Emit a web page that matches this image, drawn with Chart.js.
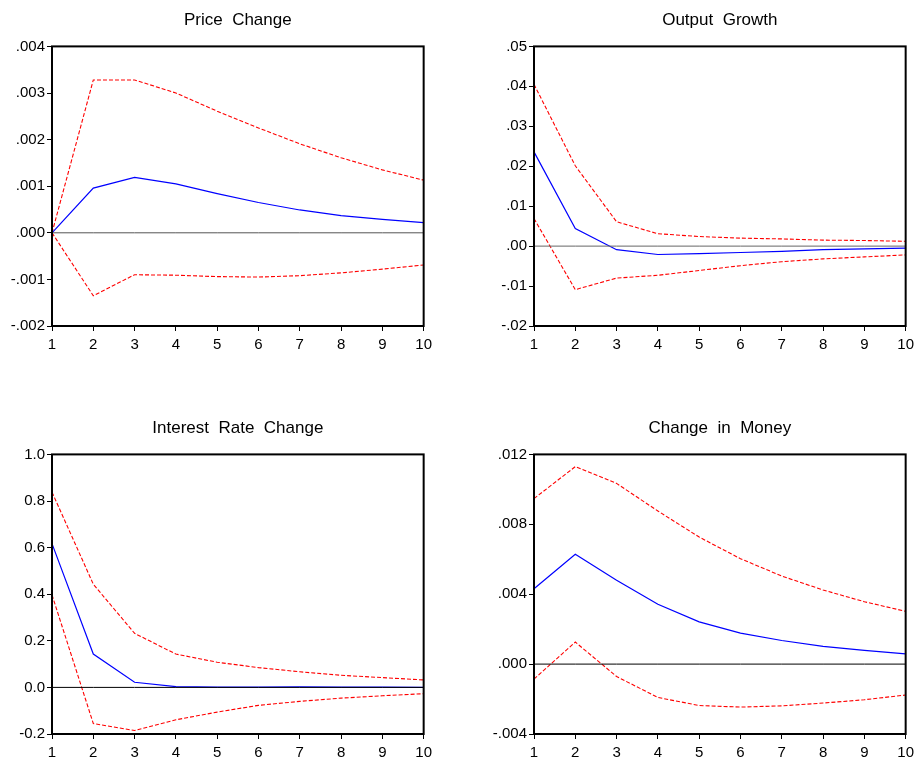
<!DOCTYPE html>
<html>
<head>
<meta charset="utf-8">
<script src="https://cdn.jsdelivr.net/npm/chart.js"></script>
<style>
  body { margin: 0; background: #fff; width: 919px; height: 765px; position: relative; overflow: hidden; }
  canvas { position: absolute; }
</style>
</head>
<body>
<canvas id="c1" width="437" height="350" style="left:0;top:0"></canvas>
<canvas id="c2" width="437" height="350" style="left:482px;top:0"></canvas>
<canvas id="c3" width="437" height="350" style="left:0;top:408px"></canvas>
<canvas id="c4" width="437" height="350" style="left:482px;top:408px"></canvas>
<script>
const steps = ["1", "2", "3", "4", "5", "6", "7", "8", "9", "10"];
const zeroLine = [0, 0, 0, 0, 0, 0, 0, 0, 0, 0];

// Price Change
const priceResp  = [0, 0.00096, 0.00119, 0.00105, 0.00084, 0.00065, 0.00049, 0.00037, 0.00029, 0.00022];
const priceUpper = [0, 0.00328, 0.00328, 0.00300, 0.00261, 0.00225, 0.00191, 0.00161, 0.00135, 0.00113];
const priceLower = [0, -0.00135, -0.00090, -0.00091, -0.00094, -0.00095, -0.00092, -0.00086, -0.00078, -0.00069];
const priceTicks = ["-.002", "-.001", ".000", ".001", ".002", ".003", ".004"];

// Output Growth
const outputResp  = [0.0236, 0.0044, -0.0009, -0.0021, -0.0019, -0.0016, -0.0013, -0.0009, -0.0007, -0.0005];
const outputUpper = [0.0405, 0.0201, 0.0061, 0.0031, 0.0024, 0.0020, 0.0018, 0.0015, 0.0014, 0.0012];
const outputLower = [0.0069, -0.0109, -0.0080, -0.0073, -0.0061, -0.0049, -0.0039, -0.0032, -0.0027, -0.0022];
const outputTicks = ["-.02", "-.01", ".00", ".01", ".02", ".03", ".04", ".05"];

// Interest Rate Change
const rateResp  = [0.617, 0.143, 0.022, 0.003, 0.001, 0.001, 0.002, 0.001, 0.001, 0.000];
const rateUpper = [0.838, 0.443, 0.232, 0.143, 0.108, 0.085, 0.067, 0.052, 0.042, 0.032];
const rateLower = [0.397, -0.155, -0.185, -0.139, -0.106, -0.077, -0.060, -0.046, -0.036, -0.027];
const rateTicks = ["-0.2", "0.0", "0.2", "0.4", "0.6", "0.8", "1.0"];

// Change in Money
const moneyResp  = [0.00431, 0.00628, 0.00480, 0.00342, 0.00242, 0.00177, 0.00135, 0.00101, 0.00078, 0.00059];
const moneyUpper = [0.00947, 0.01130, 0.01034, 0.00876, 0.00727, 0.00603, 0.00504, 0.00424, 0.00357, 0.00302];
const moneyLower = [-0.00086, 0.00126, -0.00071, -0.00191, -0.00237, -0.00246, -0.00239, -0.00223, -0.00204, -0.00177];
const moneyTicks = ["-.004", ".000", ".004", ".008", ".012"];

const FONT = "'Liberation Sans', Arial, sans-serif";

// box round the plot area
const frame = {
  id: "frame",
  afterDraw(chart) {
    const a = chart.chartArea, ctx = chart.ctx;
    ctx.save();
    ctx.strokeStyle = "#000";
    ctx.lineWidth = 2;
    ctx.strokeRect(a.left, a.top, a.right - a.left, a.bottom - a.top);
    ctx.restore();
  }
};

function makeChart(id, title, resp, upper, lower, min, max, step, tickLabels, zeroColor) {
  const dashed = data => ({ data, borderColor: "#ff0000", borderWidth: 1.1, borderDash: [4, 2], pointRadius: 0, tension: 0 });
  new Chart(document.getElementById(id), {
    type: "line",
    data: {
      labels: steps,
      datasets: [
        { data: zeroLine, borderColor: zeroColor, borderWidth: 1, pointRadius: 0 },
        dashed(upper),
        dashed(lower),
        { data: resp, borderColor: "#0000ff", borderWidth: 1.2, pointRadius: 0, tension: 0 }
      ]
    },
    options: {
      responsive: false,
      animation: false,
      layout: { padding: { left: 0, right: 13, top: 0, bottom: 0 } },
      plugins: {
        legend: { display: false },
        tooltip: { enabled: false },
        title: {
          display: true, text: title, color: "#000", fullSize: false,
          font: { family: FONT, size: 17, weight: "normal" },
          padding: { top: 10, bottom: 16 }
        }
      },
      scales: {
        x: {
          offset: false,
          grid: { drawOnChartArea: false, drawTicks: true, tickLength: 5, color: "#000" },
          border: { display: false },
          ticks: { color: "#000", font: { family: FONT, size: 15 }, padding: 5, maxRotation: 0, autoSkip: false },
          afterFit: s => { s.height = 24; }
        },
        y: {
          min, max,
          grid: { drawOnChartArea: false, drawTicks: true, tickLength: 5, color: "#000" },
          border: { display: false },
          ticks: { stepSize: step, color: "#000", font: { family: FONT, size: 15 }, padding: 2,
                   callback: (v, i) => tickLabels[i] },
          afterFit: s => { s.width = 52; }
        }
      }
    },
    plugins: [frame]
  });
}

makeChart("c1", "Price  Change", priceResp, priceUpper, priceLower, -0.002, 0.004, 0.001, priceTicks, "#555");
makeChart("c2", "Output  Growth", outputResp, outputUpper, outputLower, -0.02, 0.05, 0.01, outputTicks, "#666");
makeChart("c3", "Interest  Rate  Change", rateResp, rateUpper, rateLower, -0.2, 1.0, 0.2, rateTicks, "#000");
makeChart("c4", "Change  in  Money", moneyResp, moneyUpper, moneyLower, -0.004, 0.012, 0.004, moneyTicks, "#000");
</script>
</body>
</html>
